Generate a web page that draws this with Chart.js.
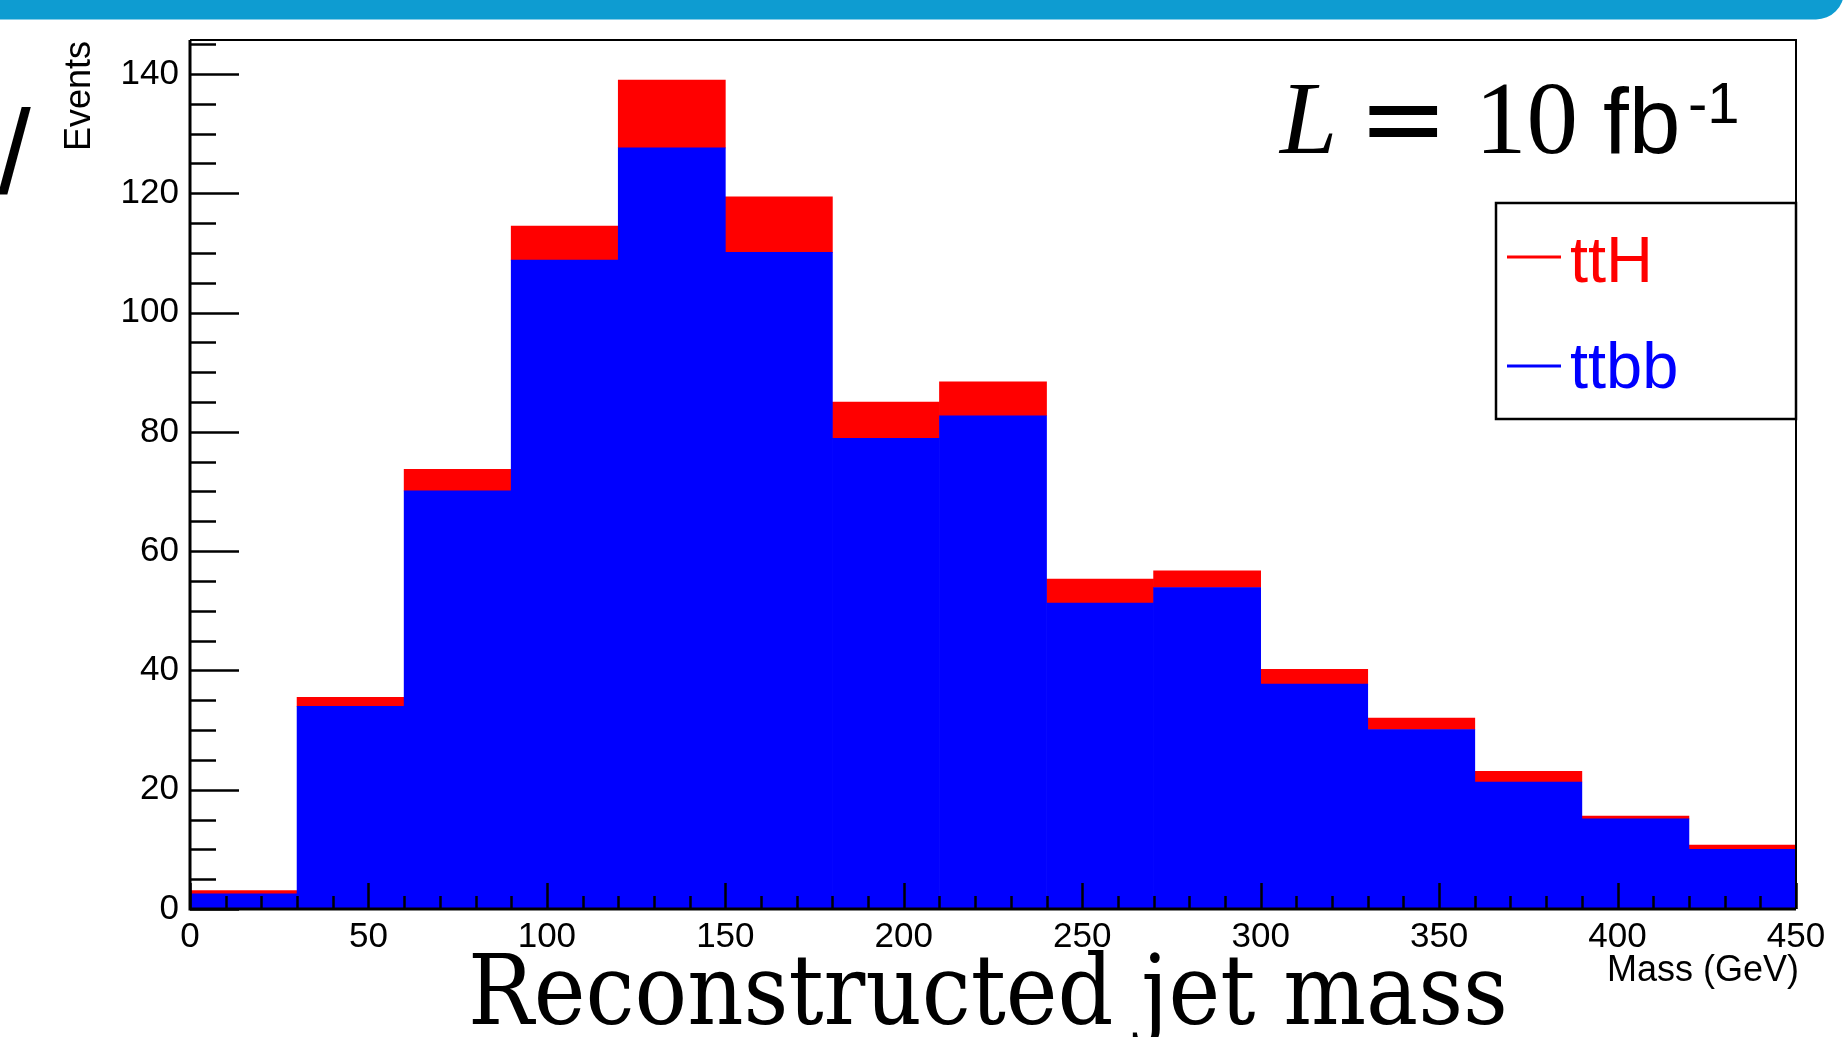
<!DOCTYPE html>
<html lang="en">
<head>
<meta charset="UTF-8">
<title>Reconstructed jet mass</title>
<script src="https://cdn.jsdelivr.net/npm/chart.js@4.4.1/dist/chart.umd.min.js"></script>
<style>
  html, body { margin: 0; padding: 0; background: #fff; overflow: hidden; }
  canvas { display: block; }
</style>
</head>
<body>
<canvas id="chart" width="1844" height="1037"></canvas>
<script>
// histogram bins, lower edges in GeV (30 GeV wide)
var binLow = [0, 30, 60, 90, 120, 150, 180, 210, 240, 270, 300, 330, 360, 390, 420];
var binWidth = 30;

// events per bin (stacked: ttbb at the bottom, ttH on top)
var ttbb = [2.55, 34.0, 70.1, 108.8, 127.6, 110.1, 78.9, 82.7, 51.3, 53.9, 37.7, 30.1, 21.3, 15.1, 10.0];
var ttH  = [0.52, 1.5, 3.6, 5.7, 11.4, 9.3, 6.1, 5.7, 4.0, 2.8, 2.5, 1.9, 1.8, 0.5, 0.7];

var xTicks = [0, 50, 100, 150, 200, 250, 300, 350, 400, 450];
var yTicks = [0, 20, 40, 60, 80, 100, 120, 140];
var xMin = 0, xMax = 450;
var yMin = 0, yMax = 145.7;

function points(vals) {
    return binLow.map(function (lo, i) { return { x: lo + binWidth / 2, y: vals[i] }; });
}

// axes, ticks, frame, legend and the slide texts
var decor = {
    id: 'decor',
    beforeDraw: function (chart) {
        var ctx = chart.ctx;
        ctx.save();
        ctx.fillStyle = '#fff';
        ctx.fillRect(0, 0, chart.width, chart.height);
        ctx.restore();
    },
    afterDatasetsDraw: function (chart) {
        var ctx = chart.ctx, a = chart.chartArea;
        var xs = chart.scales.x, ys = chart.scales.y;
        ctx.save();
        ctx.strokeStyle = '#000';
        ctx.lineCap = 'butt';

        // y ticks: major every 20, minor every 5 (pointing inwards)
        ctx.lineWidth = 2.5;
        for (var v = yMin; v <= yMax; v += 5) {
            var py = Math.round(ys.getPixelForValue(v)) + 0.5;
            var len = (v % 20 === 0) ? 49 : 26;
            ctx.beginPath();
            ctx.moveTo(a.left, py);
            ctx.lineTo(a.left + len, py);
            ctx.stroke();
        }
        // x ticks: major every 50, minor every 10
        for (var u = xMin; u <= xMax; u += 10) {
            var px = Math.round(xs.getPixelForValue(u)) + 0.5;
            var l2 = (u % 50 === 0) ? 26 : 13;
            ctx.beginPath();
            ctx.moveTo(px, a.bottom);
            ctx.lineTo(px, a.bottom - l2);
            ctx.stroke();
        }

        // frame
        ctx.lineWidth = 2;
        ctx.beginPath();
        ctx.moveTo(a.left, a.top);
        ctx.lineTo(a.right, a.top);
        ctx.lineTo(a.right, a.bottom);
        ctx.stroke();
        ctx.lineWidth = 3;
        ctx.beginPath();
        ctx.moveTo(a.left, a.top);
        ctx.lineTo(a.left, a.bottom);
        ctx.lineTo(a.right, a.bottom);
        ctx.stroke();
        ctx.restore();
    },
    afterDraw: function (chart) {
        var ctx = chart.ctx, a = chart.chartArea;
        ctx.save();

        // blue band at the top of the slide
        ctx.fillStyle = '#0e9cd1';
        ctx.beginPath();
        ctx.moveTo(0, 0);
        ctx.lineTo(1844, 0);
        ctx.arcTo(1844, 19.5, 1810, 19.5, 28);
        ctx.lineTo(0, 19.5);
        ctx.closePath();
        ctx.fill();

        // cut-off slash from the slide on the left
        ctx.fillStyle = '#000';
        ctx.font = "118px 'Liberation Sans', Arial, sans-serif";
        ctx.textAlign = 'left';
        ctx.textBaseline = 'alphabetic';
        ctx.fillText('/', -2, 193);

        // axis titles
        ctx.font = "36px 'Liberation Sans', Arial, sans-serif";
        ctx.save();
        ctx.translate(80, a.top + 1);
        ctx.rotate(-Math.PI / 2);
        ctx.textAlign = 'right';
        ctx.textBaseline = 'middle';
        ctx.fillText('Events', 0, 0);
        ctx.restore();

        ctx.font = "36px 'Liberation Sans', Arial, sans-serif";
        ctx.textAlign = 'right';
        ctx.textBaseline = 'alphabetic';
        ctx.fillText('Mass (GeV)', 1799, 981);

        // luminosity label
        ctx.textAlign = 'left';
        ctx.font = "italic 103px 'Liberation Serif', serif";
        ctx.fillText('L', 1280, 153);
        ctx.font = "108px 'DejaVu Sans', sans-serif";
        ctx.fillText('=', 1358, 156);
        ctx.font = "103px 'Liberation Serif', serif";
        ctx.fillText('10', 1475, 153);
        ctx.font = "93px 'Liberation Sans', Arial, sans-serif";
        ctx.fillText('fb', 1603, 153);
        ctx.font = "58px 'Liberation Sans', Arial, sans-serif";
        ctx.fillText('-1', 1688, 123);

        // legend box
        var lx = 1496, ly = 203, lw = a.right - 1496, lh = 216;
        ctx.fillStyle = '#fff';
        ctx.fillRect(lx, ly, lw, lh);
        ctx.strokeStyle = '#000';
        ctx.lineWidth = 2.5;
        ctx.strokeRect(lx, ly, lw, lh);
        var entries = [chart.data.datasets[1], chart.data.datasets[0]];
        var rows = [{ line: 257, base: 282 }, { line: 366, base: 388 }];
        ctx.font = "65px 'Liberation Sans', Arial, sans-serif";
        entries.forEach(function (ds, i) {
            ctx.strokeStyle = ds.backgroundColor;
            ctx.lineWidth = 3;
            ctx.beginPath();
            ctx.moveTo(1507, rows[i].line);
            ctx.lineTo(1561, rows[i].line);
            ctx.stroke();
            ctx.fillStyle = ds.backgroundColor;
            ctx.fillText(ds.label, 1570, rows[i].base);
        });

        // slide caption
        ctx.fillStyle = '#000';
        ctx.font = "98px 'DejaVu Serif', serif";
        var cap = 'Reconstructed jet mass';
        var w = ctx.measureText(cap).width;
        ctx.save();
        ctx.translate(468, 1024);
        ctx.scale(1040 / w, 1);
        ctx.fillText(cap, 0, 0);
        ctx.restore();

        ctx.restore();
    }
};

var ctx = document.getElementById('chart').getContext('2d');

new Chart(ctx, {
    type: 'bar',
    data: {
        datasets: [
            {
                label: 'ttbb',
                data: points(ttbb),
                backgroundColor: '#0000ff',
                borderWidth: 0,
                barPercentage: 1.0,
                categoryPercentage: 1.0
            },
            {
                label: 'ttH',
                data: points(ttH),
                backgroundColor: '#ff0000',
                borderWidth: 0,
                barPercentage: 1.0,
                categoryPercentage: 1.0
            }
        ]
    },
    options: {
        responsive: false,
        animation: false,
        devicePixelRatio: 1,
        layout: { padding: { left: 0, top: 40, right: 48, bottom: 0 } },
        plugins: {
            legend: { display: false },
            title: { display: false },
            tooltip: { enabled: false }
        },
        scales: {
            x: {
                type: 'linear',
                stacked: true,
                offset: false,
                min: xMin,
                max: xMax,
                grid: { display: false, drawTicks: false, offset: false },
                border: { display: false },
                afterFit: function (s) { s.height = 128; },
                afterBuildTicks: function (s) { s.ticks = xTicks.map(function (v) { return { value: v }; }); },
                ticks: {
                    autoSkip: false,
                    maxRotation: 0,
                    padding: 7,
                    color: '#000',
                    font: { family: "'Liberation Sans', Arial, sans-serif", size: 35 }
                }
            },
            y: {
                type: 'linear',
                stacked: true,
                min: yMin,
                max: yMax,
                grid: { display: false, drawTicks: false },
                border: { display: false },
                afterFit: function (s) { s.width = 190; },
                afterBuildTicks: function (s) { s.ticks = yTicks.map(function (v) { return { value: v }; }); },
                ticks: {
                    padding: 11,
                    color: '#000',
                    font: { family: "'Liberation Sans', Arial, sans-serif", size: 35 }
                }
            }
        }
    },
    plugins: [decor]
});
</script>
</body>
</html>
